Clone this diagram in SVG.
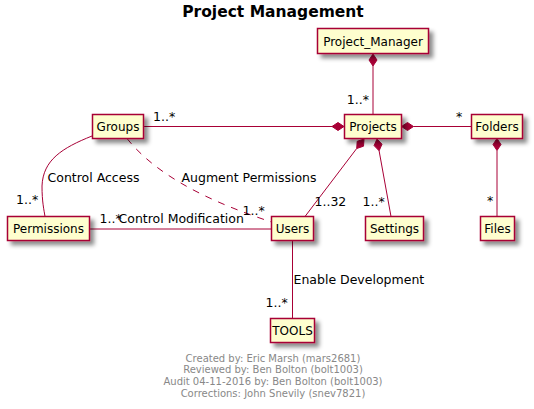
<svg xmlns="http://www.w3.org/2000/svg" width="534" height="409" viewBox="0 0 534 409">
<defs>
<filter id="sh" x="-20%" y="-40%" width="150%" height="200%">
<feGaussianBlur in="SourceAlpha" stdDeviation="2"/>
<feColorMatrix type="matrix" values="0 0 0 0 0  0 0 0 0 0  0 0 0 0 0  0 0 0 0.45 0"/>
<feOffset dx="4" dy="4" result="b"/>
<feMerge><feMergeNode in="b"/><feMergeNode in="SourceGraphic"/></feMerge>
</filter>
</defs>
<style>
.n rect{fill:#FEFECE;stroke:#A80036;stroke-width:1.5;filter:url(#sh)}
.n text{font-family:"DejaVu Sans",sans-serif;font-size:12px;fill:#000;text-anchor:middle}
.l{fill:none;stroke:#A80036;stroke-width:1}
.d{fill:#A80036;stroke:#A80036;stroke-width:1}
.t{font-family:"DejaVu Sans",sans-serif;font-size:12.5px;fill:#000}
.e{text-anchor:end}
.f{font-family:"DejaVu Sans",sans-serif;font-size:10px;fill:#888888;text-anchor:middle}
</style>
<rect width="534" height="409" fill="#FFFFFF"/>
<text x="273" y="17" text-anchor="middle" style="font-family:'DejaVu Sans',sans-serif;font-size:15.5px;font-weight:bold">Project Management</text>
<g id="connectors">
<line class="l" x1="373" y1="66" x2="373" y2="114.5"/>
<polygon class="d" points="373,54 377,60 373,66 369,60"/>
<line class="l" x1="143.5" y1="126.5" x2="332" y2="126.5"/>
<polygon class="d" points="344,126.5 338,122.5 332,126.5 338,130.5"/>
<line class="l" x1="413.5" y1="126.5" x2="471.5" y2="126.5"/>
<polygon class="d" points="401.5,126.5 407.5,122.5 413.5,126.5 407.5,130.5"/>
<line class="l" x1="497" y1="150.5" x2="497" y2="216.5"/>
<polygon class="d" points="497,138.5 501,144.5 497,150.5 493,144.5"/>
<line class="l" x1="356.7" y1="148.5" x2="305" y2="216.5"/>
<polygon class="d" points="364,139 363.5,146.2 356.7,148.5 357.2,141.3"/>
<line class="l" x1="379.1" y1="150.8" x2="391" y2="216.5"/>
<polygon class="d" points="377,139 382,144.2 379.1,150.8 374.1,145.6"/>
<path class="l" d="M92,136 C62,148 43,160 42,186 C42,202 44,210 45,216.5"/>
<path class="l" d="M127,138.5 C160,180 220,205 271.5,222" stroke-dasharray="7,7"/>
<line class="l" x1="89.5" y1="229" x2="271.5" y2="229"/>
<line class="l" x1="292.5" y1="240.5" x2="292.5" y2="318.5"/>
<text class="t e" x="369" y="104">1..*</text>
<text class="t" x="153" y="120.5">1..*</text>
<text class="t" x="456" y="121">*</text>
<text class="t" x="487" y="205">*</text>
<text class="t" x="314.5" y="206">1..32</text>
<text class="t" x="362.5" y="206">1..*</text>
<text class="t" x="47.5" y="182">Control Access</text>
<text class="t" x="16" y="204">1..*</text>
<text class="t" x="181.5" y="182">Augment Permissions</text>
<text class="t" x="242.5" y="215">1..*</text>
<text class="t" x="99.5" y="223">1..*</text>
<text class="t" x="118.5" y="222.5">Control Modification</text>
<text class="t" x="293.5" y="284">Enable Development</text>
<text class="t" x="265.5" y="307">1..*</text>
</g>
<g id="Project_Manager" class="n"><rect x="317.5" y="28.5" width="111" height="25"/><text x="373" y="45.5">Project_Manager</text></g>
<g id="Projects" class="n"><rect x="344.5" y="114.5" width="57" height="24"/><text x="373" y="131">Projects</text></g>
<g id="Folders" class="n"><rect x="471.5" y="114.5" width="51" height="24"/><text x="497" y="131">Folders</text></g>
<g id="Groups" class="n"><rect x="92.5" y="114.5" width="51" height="24"/><text x="118" y="131">Groups</text></g>
<g id="Permissions" class="n"><rect x="7.5" y="216.5" width="82" height="24"/><text x="48.5" y="233">Permissions</text></g>
<g id="Users" class="n"><rect x="271.5" y="216.5" width="42" height="24"/><text x="292.5" y="233">Users</text></g>
<g id="Settings" class="n"><rect x="365.5" y="216.5" width="58" height="24"/><text x="394.5" y="233">Settings</text></g>
<g id="Files" class="n"><rect x="480.5" y="216.5" width="34" height="24"/><text x="497.5" y="233">Files</text></g>
<g id="TOOLS" class="n"><rect x="270.5" y="318.5" width="44" height="24"/><text x="292.5" y="335">TOOLS</text></g>
<g id="footer">
<text class="f" x="273" y="361.5">Created by: Eric Marsh (mars2681)</text>
<text class="f" x="273" y="373.3">Reviewed by: Ben Bolton (bolt1003)</text>
<text class="f" x="273" y="385">Audit 04-11-2016 by: Ben Bolton (bolt1003)</text>
<text class="f" x="273" y="396.7">Corrections: John Snevily (snev7821)</text>
</g>
</svg>
